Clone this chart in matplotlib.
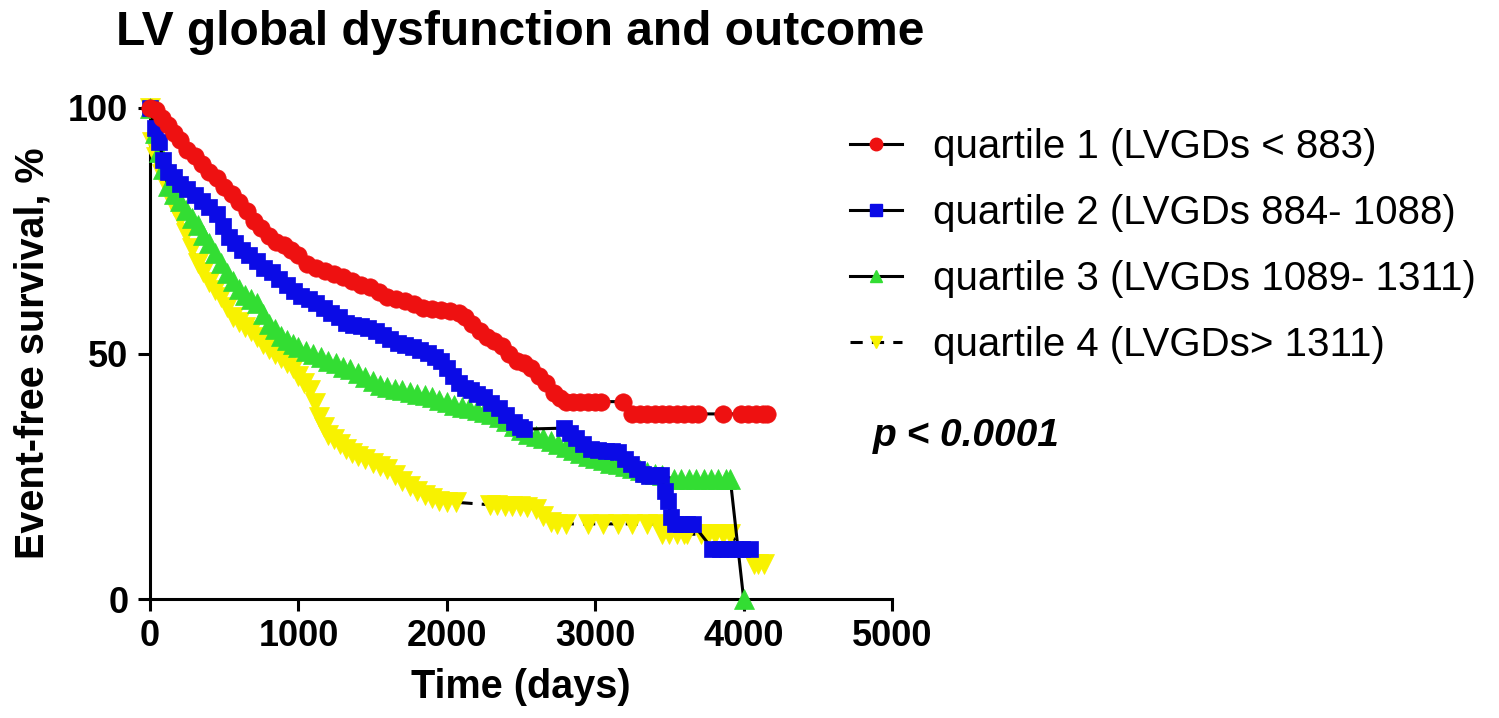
import matplotlib
matplotlib.use("Agg")
from matplotlib import pyplot as plt

plt.rcParams['font.family'] = ['Liberation Sans', 'DejaVu Sans']

# quartile 1 (LVGDs < 883)
q1_days = [0, 40, 80, 120, 160, 200, 250, 300, 350, 400, 450, 500, 550, 600, 650,
           700, 750, 800, 850, 900, 950, 1000, 1060, 1120, 1180, 1240, 1300, 1360,
           1420, 1480, 1540, 1600, 1660, 1720, 1780, 1840, 1900, 1960, 2020, 2080,
           2120, 2170, 2220, 2270, 2320, 2370, 2420, 2470, 2520, 2570, 2620, 2670,
           2720, 2760, 2800, 2850, 2900, 2950, 3000, 3040, 3190, 3250, 3300, 3350,
           3400, 3450, 3500, 3550, 3600, 3650, 3690, 3860, 3980, 4030, 4080, 4130, 4160]
q1_surv = [100, 99.5, 98, 96.5, 95, 93.5, 91.5, 90.3, 88.5, 87, 85.8, 84, 82.5, 80.8, 79,
           77, 75.5, 74, 72.8, 72, 71, 70, 68.3, 67.5, 66.8, 66.2, 65.5, 64.8,
           64, 63.5, 62.5, 61.5, 61, 60.6, 60, 59.3, 59, 58.9, 58.7, 58.3,
           57.5, 56, 54.5, 53.3, 52.5, 51.5, 49.8, 48.5, 48, 47, 45.5, 44,
           42, 41, 40.2, 40.2, 40.2, 40.2, 40.2, 40.2, 40.2, 37.7, 37.7, 37.7,
           37.7, 37.7, 37.7, 37.7, 37.7, 37.7, 37.7, 37.7, 37.7, 37.7, 37.7, 37.7, 37.7]

# quartile 2 (LVGDs 884-1088)
q2_days = [0, 30, 60, 90, 120, 160, 200, 250, 300, 350, 400, 450, 490, 530, 570, 620,
           670, 720, 770, 820, 870, 920, 970, 1020, 1070, 1120, 1170, 1220, 1270,
           1320, 1370, 1420, 1470, 1520, 1570, 1620, 1670, 1720, 1770, 1820, 1870,
           1920, 1960, 2000, 2040, 2080, 2120, 2160, 2200, 2250, 2300, 2350, 2400,
           2450, 2490, 2520, 2790, 2830, 2870, 2920, 2970, 3020, 3070, 3110, 3150,
           3200, 3240, 3280, 3320, 3360, 3400, 3440, 3470, 3490, 3510, 3540, 3580,
           3620, 3660, 3790, 3840, 3890, 3940, 3990, 4040]
q2_surv = [100, 96, 93, 89.5, 87, 86, 84.5, 83.5, 82.3, 81, 79.8, 78.5, 76, 73.8, 72.5, 71,
           70, 68.8, 67.5, 66.5, 65.2, 64, 62.8, 61.8, 61, 60.2, 59.2, 58.3, 57.4,
           56.3, 55.8, 55.6, 55.2, 54.5, 53.8, 53, 52.2, 51.8, 51.3, 50.8, 50.2,
           49.3, 48.5, 47, 45.5, 44, 43, 42.5, 41.8, 41.2, 40, 39, 37.5,
           36, 35, 34.6, 34.8, 33.8, 32.8, 31.5, 30.5, 30.3, 30.2, 30.1, 30,
           28.5, 27.6, 26.5, 25.5, 25, 25.2, 25.3, 22, 19.9, 16.8, 15.2, 15.2,
           15.2, 15.2, 10.2, 10.2, 10.2, 10.2, 10.2, 10.2]

# quartile 3 (LVGDs 1089-1311)
q3_days = [0, 30, 60, 90, 120, 160, 200, 240, 280, 320, 360, 400, 440, 480, 520, 560,
           600, 640, 680, 720, 760, 800, 840, 880, 920, 960, 1000, 1050, 1100, 1150,
           1200, 1250, 1300, 1350, 1400, 1450, 1500, 1550, 1600, 1650, 1700, 1750,
           1800, 1850, 1900, 1950, 2000, 2050, 2100, 2150, 2200, 2250, 2300, 2350,
           2400, 2450, 2500, 2550, 2600, 2650, 2700, 2750, 2800, 2850, 2900, 2950,
           3000, 3050, 3100, 3150, 3200, 3250, 3300, 3350, 3400, 3450, 3530, 3580,
           3630, 3680, 3730, 3780, 3830, 3880, 3910, 4000]
q3_surv = [100, 95, 91, 87.5, 84.2, 82.5, 81, 79.3, 77.5, 76.2, 74.2, 72.5, 70.5, 68.5, 66.3, 64.8,
           63.2, 62, 61.2, 60.3, 58, 56.1, 55, 53.6, 52.8, 52, 51.3, 50.5, 49.8, 49.2,
           48.5, 48, 47.3, 46.8, 46, 45.2, 44.3, 43.6, 43.1, 42.8, 42.5, 42.1,
           41.8, 41.6, 41.2, 40.6, 40.2, 39.6, 39.2, 38.9, 38.5, 38.1, 37.7, 37,
           36.2, 35.3, 34.5, 33.7, 33.3, 32.7, 32.1, 31.6, 31, 30.4, 29.8, 29.2,
           28.8, 28.3, 27.8, 27.4, 27, 26.6, 26.2, 25.8, 25.5, 25.2, 24.4, 24.4,
           24.4, 24.4, 24.4, 24.4, 24.4, 24.4, 24.4, 0]

# quartile 4 (LVGDs > 1311)
q4_days = [0, 10, 40, 80, 120, 160, 200, 240, 280, 320, 360, 400, 440, 480, 520, 560,
           600, 640, 680, 720, 760, 800, 840, 880, 920, 960, 1000, 1040, 1080, 1110,
           1140, 1170, 1200, 1240, 1280, 1320, 1360, 1400, 1450, 1500, 1550, 1600,
           1650, 1700, 1750, 1800, 1850, 1900, 1950, 2000, 2060, 2290, 2340, 2390,
           2440, 2490, 2540, 2600, 2650, 2700, 2740, 2800, 2950, 3050, 3150, 3250,
           3350, 3420, 3450, 3500, 3550, 3600, 3620, 3710, 3760, 3810, 3860, 3910,
           4070, 4100, 4135]
q4_surv = [100, 93, 90, 86.5, 83.5, 80, 77.5, 74.5, 71.5, 68.5, 66.5, 64.5, 63, 61.5, 59.5, 57.5,
           56.5, 55.5, 54.5, 53.3, 52, 51, 50, 49, 48, 47, 45.5, 44, 42.5, 40,
           37, 35, 33.5, 32.5, 31.5, 30.5, 29.8, 29.2, 28.5, 27.8, 27, 26.5,
           25.3, 24, 23, 22, 21.2, 20.5, 20, 19.8, 19.7, 19.2, 19.1, 19,
           19, 18.9, 18.8, 18.3, 17, 15.6, 15.3, 15.3, 15.3, 15.3, 15.3, 15.3,
           15.3, 15.3, 13.2, 13.2, 13.2, 13.2, 13.2, 13.2, 13.2, 13.2, 13.2, 13.2,
           7.1, 7.1, 7.1]

labels = ['quartile 1 (LVGDs < 883)', 'quartile 2 (LVGDs 884- 1088)',
          'quartile 3 (LVGDs 1089- 1311)', 'quartile 4 (LVGDs> 1311)']
colors = ['#ee1111', '#0b0be6', '#33dd33', '#f8f200']
markers = ['o', 's', '^', 'v']
msizes = [12.5, 12, 14, 14]
styles = ['-', '-', '-', (0, (4, 3))]

series = [(q1_days, q1_surv), (q2_days, q2_surv), (q3_days, q3_surv), (q4_days, q4_surv)]

fig = plt.figure(figsize=(14.99, 7.18), dpi=100)
ax = fig.add_axes([0.1001, 0.1657, 0.495, 0.6839])

handles = [None] * 4
for i in [3, 2, 1, 0]:
    days, surv = series[i]
    ax.plot(days, surv, color='black', lw=2.2, ls=styles[i],
            marker=markers[i], markersize=msizes[i], markerfacecolor=colors[i],
            markeredgecolor=colors[i], markeredgewidth=0.5,
            clip_on=False, zorder=3 + (3 - i))
    # legend entry with a smaller marker
    h, = ax.plot([], [], color='black', lw=2.2, ls=styles[i], marker=markers[i],
                 markersize=9, markerfacecolor=colors[i], markeredgecolor=colors[i])
    handles[i] = h

ax.set_xlim(0, 5000)
ax.set_ylim(0, 100)
ax.set_xticks([0, 1000, 2000, 3000, 4000, 5000])
ax.set_yticks([0, 50, 100])
for side in ['top', 'right']:
    ax.spines[side].set_visible(False)
for side in ['left', 'bottom']:
    ax.spines[side].set_linewidth(2.2)
ax.tick_params(axis='both', length=8.6, width=2.2, labelsize=26)
ax.tick_params(axis='x', pad=6)
ax.tick_params(axis='y', pad=7)
for lab in ax.get_xticklabels() + ax.get_yticklabels():
    lab.set_fontweight('bold')

ax.set_xlabel('Time (days)', fontsize=28.5, fontweight='bold')
ax.xaxis.set_label_coords(0.5, -0.14)
fig.text(33 / 1499, (718 - 353.5) / 718, 'Event-free survival, %', fontsize=28.5,
         fontweight='bold', rotation=90, ha='center', va='center')

fig.text(116 / 1499, 0.937, 'LV global dysfunction and outcome', fontsize=34.5,
         fontweight='bold', va='baseline', ha='left')

fig.legend(handles=handles, labels=labels, loc='upper left',
           bbox_to_anchor=(850 / 1499, 0.822), bbox_transform=fig.transFigure,
           frameon=False, fontsize=29, borderpad=0, borderaxespad=0,
           handlelength=1.3, handletextpad=0.75, labelspacing=0.7)

fig.text(873 / 1499, (718 - 446) / 718, 'p < 0.0001', fontsize=28,
         fontweight='bold', fontstyle='italic', va='baseline', ha='left')

fig.savefig('out.png', dpi=100)
